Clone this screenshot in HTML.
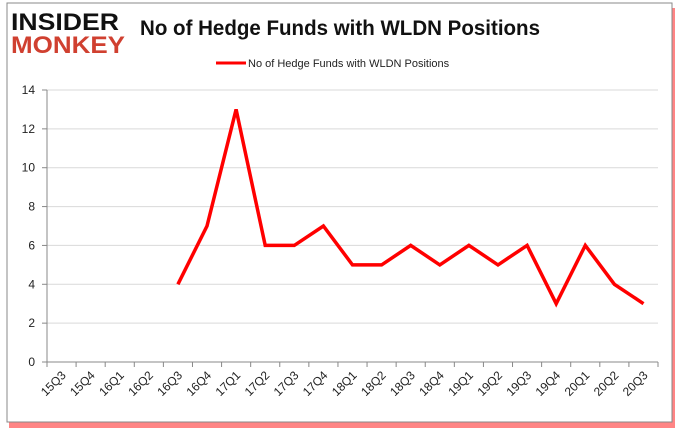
<!DOCTYPE html>
<html><head><meta charset="utf-8"><style>
body{margin:0;background:#fff;width:680px;height:433px;overflow:hidden;font-family:"Liberation Sans",sans-serif}
</style></head><body>
<svg width="680" height="433" xmlns="http://www.w3.org/2000/svg">
<rect x="9" y="8" width="666" height="420" fill="#f33" opacity="0.6"/>
<rect x="7" y="3" width="665" height="419" fill="#fff" stroke="#888" stroke-width="1"/>
<g font-family="'Liberation Sans',sans-serif" font-weight="bold">
<text x="11" y="30" font-size="24" fill="#111" textLength="108" lengthAdjust="spacingAndGlyphs">INSIDER</text>
<text x="11" y="53" font-size="24" fill="#d04030" textLength="114" lengthAdjust="spacingAndGlyphs">MONKEY</text>
</g>
<text x="340" y="35" text-anchor="middle" font-size="21" font-weight="bold" fill="#111" textLength="400" lengthAdjust="spacingAndGlyphs">No of Hedge Funds with WLDN Positions</text>
<line x1="216" y1="63" x2="246" y2="63" stroke="red" stroke-width="3"/>
<text x="248" y="67" font-size="11" fill="#222">No of Hedge Funds with WLDN Positions</text>
<g id="axes"></g>
<g id="marks"></g>
</svg>
<script>
const categories=["15Q3","15Q4","16Q1","16Q2","16Q3","16Q4","17Q1","17Q2","17Q3","17Q4","18Q1","18Q2","18Q3","18Q4","19Q1","19Q2","19Q3","19Q4","20Q1","20Q2","20Q3"];
const values=[null,null,null,null,4,7,13,6,6,7,5,5,6,5,6,5,6,3,6,4,3];
const yTicks=[0,2,4,6,8,10,12,14];
const NS="http://www.w3.org/2000/svg";
const x0=47,x1=658,y0=362,y1=90,yMax=14;
const step=(x1-x0)/categories.length;
const xs=i=>x0+step*(i+0.5);
const ys=v=>y0-(v/yMax)*(y0-y1);
const axes=document.getElementById('axes'),marks=document.getElementById('marks');
function mk(t,a,p){const e=document.createElementNS(NS,t);for(const k in a)e.setAttribute(k,a[k]);p.appendChild(e);return e;}
yTicks.forEach(v=>{
 const g=mk('line',{x1:x0,x2:x1,y1:ys(v),y2:ys(v),stroke:v===0?'#888':'#d9d9d9'},axes);
 
 
 const tk=mk('line',{x1:x0-5,x2:x0,y1:ys(v),y2:ys(v),stroke:'#888'},axes);
 
 
 const t=mk('text',{x:x0-12,y:ys(v)+4,'text-anchor':'end','font-size':12,fill:'#222'},axes);
 t.textContent=v;
 
 
});
const ya=mk('line',{x1:x0,x2:x0,y1:y1,y2:y0,stroke:'#888'},axes);


for(let i=0;i<=categories.length;i++){
 const l=mk('line',{x1:x0+step*i,x2:x0+step*i,y1:y0,y2:y0+5,stroke:'#888'},axes);
 
 
}
categories.forEach((c,i)=>{
 const x=xs(i)+5,y=y0+14;
 const t=mk('text',{x:x,y:y,'text-anchor':'end','font-size':12,fill:'#222',transform:`rotate(-45 ${x} ${y})`},axes);
 t.textContent=c;
 
 
});
let d='';
values.forEach((v,i)=>{if(v===null)return;d+=(d?'L':'M')+xs(i).toFixed(1)+' '+ys(v).toFixed(1);});
const p=mk('path',{d:d,fill:'none',stroke:'red','stroke-width':3.5,'stroke-linejoin':'miter'},marks);


</script>
</body></html>
